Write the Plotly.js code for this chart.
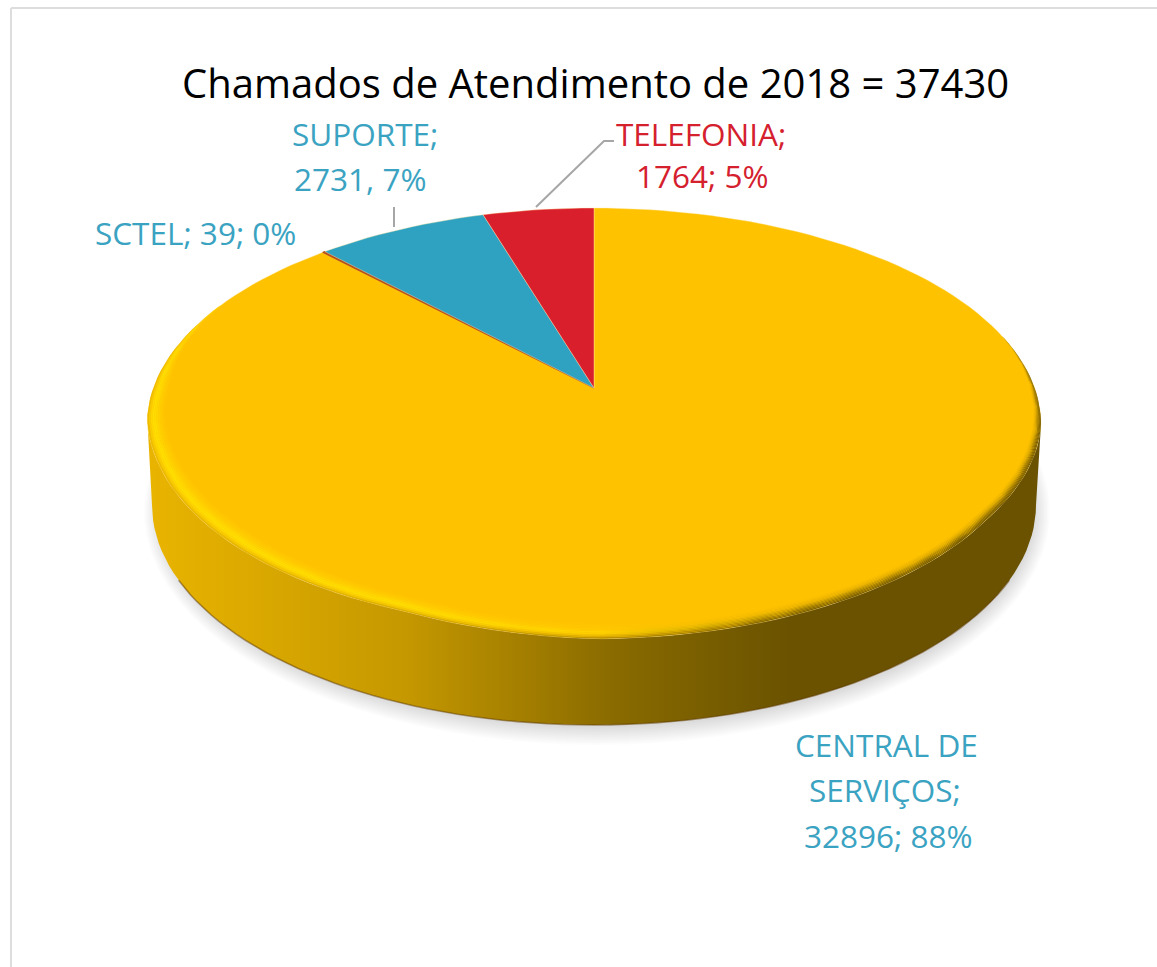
<!DOCTYPE html>
<html><head><meta charset="utf-8">
<script src="https://cdn.plot.ly/plotly-3.0.1.min.js"></script>
<style>html,body{margin:0;padding:0;background:#fff}#c{width:1157px;height:967px}</style>
</head><body><div id="c"></div>
<script>
const categories = ["CENTRAL DE SERVIÇOS", "SCTEL", "SUPORTE", "TELEFONIA"];
const values = [32896, 39, 2731, 1764];
const sliceColors = ["#FFC200", "#B4501E", "#2FA2C2", "#DA1F2C"];
const chartTitle = "Chamados de Atendimento de 2018 = 37430";
const labelFont = "'Open Sans', sans-serif";
const labelLines = [
  ["SUPORTE;", 365, 133, "#3BA3C2"], ["2731, 7%", 360, 178, "#3BA3C2"],
  ["TELEFONIA;", 701, 133, "#D5202E"], ["1764; 5%", 702, 175, "#D5202E"],
  ["SCTEL; 39; 0%", 195, 232, "#3BA3C2"],
  ["CENTRAL DE", 886, 744, "#3BA3C2"], ["SERVIÇOS;", 885, 789, "#3BA3C2"], ["32896; 88%", 888, 835, "#3BA3C2"]
];

const total = values.reduce((a, b) => a + b, 0);
const rad = d => d * Math.PI / 180;
function lookup(tbl, t) {
  if (t <= tbl[0][0]) return tbl[0][1];
  for (let i = 1; i < tbl.length; i++) if (t <= tbl[i][0]) {
    const a = tbl[i - 1], b = tbl[i];
    return a[1] + (b[1] - a[1]) * (t - a[0]) / (b[0] - a[0]);
  }
  return tbl[tbl.length - 1][1];
}
// the rim sits slightly inside a true ellipse on the lower part
const rimDent = [[100, 0], [125, .014], [160, .006], [180, .004], [202, .026], [220, .018], [235, .013], [250, .008], [262, 0]];
// perspective view of the pie's top face
function proj(r, deg) {
  const R = r * (1 - lookup(rimDent, deg));
  const u = R * Math.sin(rad(deg)), v = R * Math.cos(rad(deg)), d = 1 + v / 6;
  return [594 + 440.7 * u / d, 388 - 210 * v / d];
}
const bottom = deg => [594 + 442 * Math.sin(rad(deg)), 505 - 220 * Math.cos(rad(deg))];
function range(a, b, step) { const o = []; for (let t = a; step > 0 ? t <= b : t >= b; t += step) o.push(t); return o; }
function poly(pts, extra) {
  return Object.assign({ x: pts.map(p => p[0]), y: pts.map(p => p[1]), mode: "lines", fill: "toself",
    line: { width: 0 }, hoverinfo: "skip", showlegend: false, type: "scatter" }, extra);
}
const traces = [];

// soft shadow
range(0, 11, 1).forEach(k => {
  const rx = 453 - 1.4 * k, ry = 233 - 1.6 * k;
  const pts = range(0, 360, 4).map(t => [597 + rx * Math.sin(rad(t)), 512 - ry * Math.cos(rad(t))]);
  traces.push(poly(pts, { fillcolor: "rgba(0,0,0,0.012)" }));
});

// side wall
const sideStops = [[0, "#E9B400"], [0.4, "#C59800"], [0.72, "#8A6B00"], [1, "#6A5200"]];
const sidePts = range(100, 260, 2).map(t => proj(1, t)).concat(range(270, 90, -2).map(bottom));
traces.push(poly(sidePts, { fillgradient: { type: "horizontal", colorscale: sideStops, start: 150, stop: 790 }, fillcolor: "#6A5200" }));
const edge = range(250, 110, -2).map(bottom);
traces.push({ x: edge.map(p => p[0]), y: edge.map(p => p[1]), mode: "lines",
  line: { width: 1.6, color: "rgba(95,60,0,0.5)" }, hoverinfo: "skip", showlegend: false, type: "scatter" });

// slices on the top face, clockwise from 12 o'clock
let start = 0;
values.forEach((v, i) => {
  const sweep = v / total * 360, arc = [];
  const steps = Math.max(1, Math.ceil(sweep / 2));
  for (let s = 0; s <= steps; s++) arc.push(proj(1, start + sweep * s / steps));
  const pts = [proj(0, 0)].concat(arc, [proj(0, 0)]);
  traces.push(poly(pts, { name: categories[i], fillcolor: sliceColors[i],
    line: { width: i === 1 ? 1.2 : 0.4, color: i === 1 ? sliceColors[i] : "#FFE9A8" } }));
  start += sweep;
});

// bevel on the rim: colour depends on depth into the band and on x
const bevelAt = [[75, 0], [100, .018], [130, .028], [180, .05], [230, .052], [270, .036], [295, 0]];
const bevelX = [0, 0.283, 0.507, 0.731, 1];
const bevelDepth = [0, 0.2, 0.38, 0.65, 1];
const bevelKeys = [
  [[232,180,0], [214,166,0], [176,136,0], [120,93,0], [107,82,0]],
  [[253,210,0], [250,208,0], [236,184,0], [146,113,0], [122,94,0]],
  [[255,224,0], [255,222,0], [255,212,0], [182,141,0], [158,122,0]],
  [[255,208,0], [255,207,0], [255,200,0], [236,180,0], [216,166,0]],
  [[255,194,0], [255,194,0], [255,194,0], [255,194,0], [255,194,0]]
];
function bevelColors(depth) {
  let i = 1; while (i < bevelDepth.length - 1 && depth > bevelDepth[i]) i++;
  const f = (depth - bevelDepth[i - 1]) / (bevelDepth[i] - bevelDepth[i - 1]);
  return bevelKeys[i].map((c, j) => {
    const a = bevelKeys[i - 1][j];
    return "rgb(" + c.map((q, m) => Math.round(a[m] + (q - a[m]) * f)).join(",") + ")";
  });
}
const layers = 10, th = range(75, 295, 2);
range(0, layers - 1, 1).forEach(k => {
  const cols = bevelColors((k + 0.5) / layers);
  const outer = th.map(t => proj(1 - k / layers * lookup(bevelAt, t), t));
  const inner = th.slice().reverse().map(t => proj(1 - (k + 1) / layers * lookup(bevelAt, t), t));
  traces.push(poly(outer.concat(inner), { fillcolor: cols[2],
    fillgradient: { type: "horizontal", colorscale: cols.map((c, i) => [bevelX[i], c]), start: 147, stop: 1041 } }));
});

const annotations = labelLines.map(l => ({ text: l[0], x: l[1], y: l[2], xref: "x", yref: "y", showarrow: false,
  xanchor: "center", yanchor: "middle", font: { family: labelFont, size: 31.5, color: l[3] } }));
annotations.push({ text: chartTitle, x: 595, y: 82, xref: "x", yref: "y", showarrow: false, xanchor: "center", yanchor: "middle",
  font: { family: labelFont, size: 40, color: "#000" } });

const shapes = [
  { type: "line", x0: 11, x1: 11, y0: 8, y1: 967, line: { color: "#DDDDDD", width: 2 } },
  { type: "line", x0: 11, x1: 1157, y0: 8, y1: 8, line: { color: "#DDDDDD", width: 2 } },
  { type: "line", x0: 394, x1: 394, y0: 207, y1: 227, line: { color: "#A6A6A6", width: 2 } },
  { type: "path", path: "M536,207 L604,141 L614,141", line: { color: "#A6A6A6", width: 2 } }
];

Plotly.newPlot("c", traces, {
  width: 1157, height: 967, margin: { l: 0, r: 0, t: 0, b: 0 },
  paper_bgcolor: "#fff", plot_bgcolor: "#fff", showlegend: false, hovermode: false,
  xaxis: { range: [0, 1157], visible: false, fixedrange: true },
  yaxis: { range: [967, 0], visible: false, fixedrange: true },
  annotations, shapes
}, { displayModeBar: false, staticPlot: true });
</script></body></html>
